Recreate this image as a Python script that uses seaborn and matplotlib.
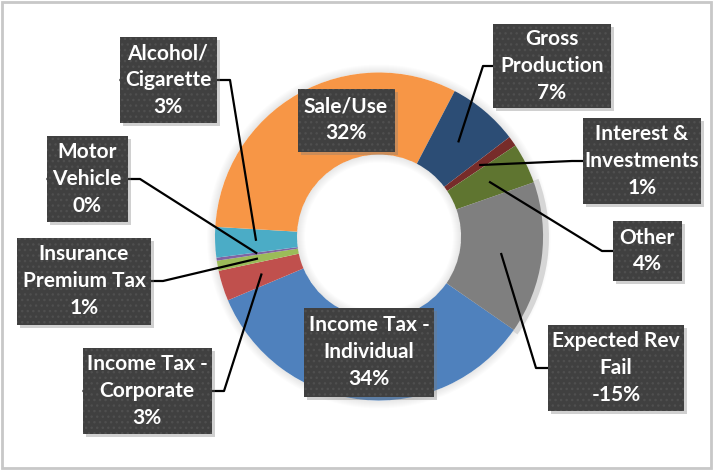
"""
Revenue mix donut - recreated with seaborn / matplotlib
"""
import numpy as np
import matplotlib
matplotlib.use('Agg')
import matplotlib.pyplot as plt
from matplotlib.patches import Rectangle, Wedge
import seaborn as sns

# slices, clockwise from the first one (Excel order)
categories = ['Income Tax -\nIndividual', 'Income Tax -\nCorporate', 'Insurance\nPremium Tax',
              'Motor\nVehicle', 'Alcohol/\nCigarette', 'Sale/Use', 'Gross\nProduction',
              'Interest &\nInvestments', 'Other', 'Expected Rev\nFail']
values = [34.0, 3.0, 1.0, 0.3, 3.0, 31.7, 7.0, 1.0, 4.0, -15.0]
colors = ['#4f81bd', '#c0504d', '#9bbb59', '#8064a2', '#4bacc6', '#f79646',
          '#2c4d75', '#772c2a', '#5f7530', '#7f7f7f']

# label boxes: centre x, centre y (pixels from top-left), width, height, leader elbow x
boxes = {
    'Income Tax -\nIndividual': (369, 352, 130, 89, None),
    'Income Tax -\nCorporate': (147, 391, 129, 86, 224),
    'Insurance\nPremium Tax': (84, 281, 134, 87, 163),
    'Motor\nVehicle': (87, 179, 81, 86, 140),
    'Alcohol/\nCigarette': (168, 80, 97, 86, 230),
    'Sale/Use': (346, 120, 97, 63, None),
    'Gross\nProduction': (552, 66, 118, 84, 483),
    'Interest &\nInvestments': (642, 161, 118, 86, 572),
    'Other': (647, 251, 69, 60, 602),
    'Expected Rev\nFail': (616, 368, 136, 86, 536),
}

W, H = 713, 470
CX, CY, R, RIN = 379, 236.5, 164, 82


def fy(y):
    return H - y


sns.set_theme(style='white')
plt.rcParams['hatch.linewidth'] = 1.0
font = ['Lato', 'Roboto', 'DejaVu Sans']

fig = plt.figure(figsize=(W / 100, H / 100), dpi=100)
ax = fig.add_axes([0, 0, 1, 1])

abs_vals = np.abs(values)
total = abs_vals.sum()
explode = [0.06 if v < 0 else 0 for v in values]
wedges, _ = ax.pie(abs_vals, colors=colors, startangle=-34.7, counterclock=False,
                   radius=R, center=(CX, fy(CY)), explode=explode,
                   wedgeprops=dict(width=R - RIN, linewidth=0))
for w in wedges:
    w.set_zorder(2)
# pie resets the limits, so set the pixel frame afterwards
ax.set_xlim(0, W); ax.set_ylim(0, H)
ax.set_aspect('equal'); ax.axis('off')

# soft glow around the ring and inner shadow in the hole
for k in range(1, 9):
    ax.add_patch(Wedge((CX, fy(CY)), R + k, 0, 360, width=k, color='black', alpha=0.012, lw=0, zorder=1))
    ax.add_patch(Wedge((CX, fy(CY)), RIN, 0, 360, width=k, color='black', alpha=0.013, lw=0, zorder=3))

# light shadow behind the exploded slice
for w, v in zip(wedges, values):
    if v < 0:
        mid = np.deg2rad((w.theta1 + w.theta2) / 2)
        sc = (CX + 4 * np.cos(mid), fy(CY) + 4 * np.sin(mid))
        ax.add_patch(Wedge(sc, R + 2, w.theta1 - 1.2, w.theta2 + 1.2, width=R - RIN + 4,
                           color='#d6d6d6', lw=0, zorder=1.5))

for w, cat, v in zip(wedges, categories, values):
    bx, by, bw, bh, elbow = boxes[cat]
    pct = int(round(v / total * 100))
    # shadow + patterned box
    ax.add_patch(Rectangle((bx - bw / 2 + 3, fy(by + bh / 2) - 3), bw, bh, facecolor='#7a7a7a',
                           alpha=0.35, lw=0, zorder=4))
    ax.add_patch(Rectangle((bx - bw / 2, fy(by + bh / 2)), bw, bh, facecolor='#404040',
                           edgecolor='#4f4f4f', hatch='...', lw=0, zorder=5))
    ax.text(bx, fy(by), f'{cat}\n{pct}%', ha='center', va='center', color='white',
            fontsize=15, fontweight='bold', family=font, linespacing=1.42, zorder=6)
    if elbow is None:
        continue
    mid = np.deg2rad((w.theta1 + w.theta2) / 2)
    r = (R + RIN) / 2
    px = w.center[0] + r * np.cos(mid)
    py = w.center[1] + r * np.sin(mid)
    edge = bx - bw / 2 if elbow > bx else bx + bw / 2
    ax.plot([px, elbow, edge], [py, fy(by), fy(by)], color='black', lw=1.6,
            solid_capstyle='butt', zorder=3.5)

# chart border
fig.patches.append(Rectangle((0.003, 0.004), 0.994, 0.992, transform=fig.transFigure,
                             fill=False, edgecolor='#c8c8c8', lw=2))

plt.savefig('out.png', dpi=100)
plt.close()
